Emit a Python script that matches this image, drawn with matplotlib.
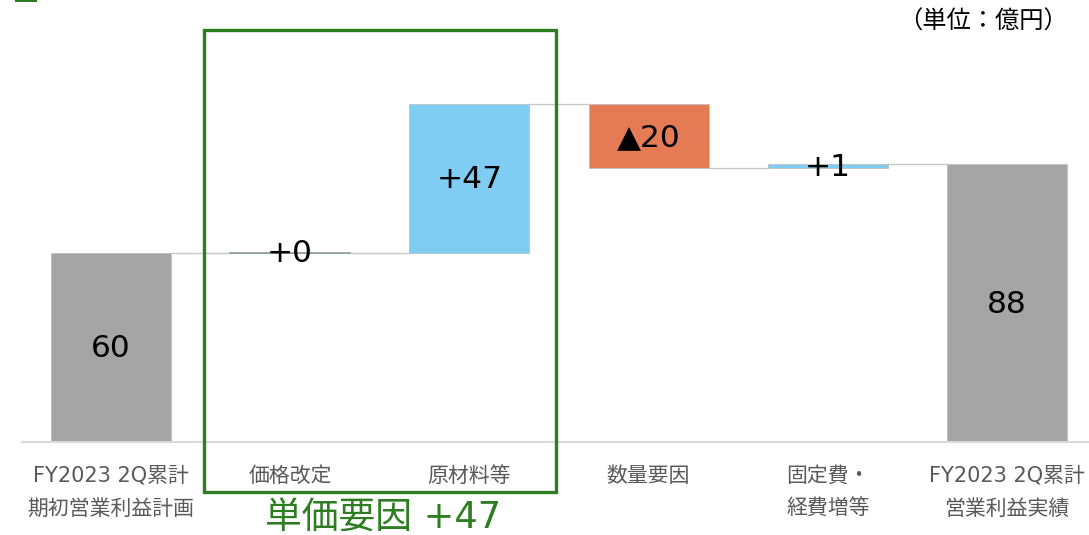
import matplotlib.pyplot as plt
from matplotlib.patches import Rectangle
import numpy as np

# DejaVu for Latin (Verdana-like, close to Meiryo), CJK fallback for Japanese
plt.rcParams['font.family'] = ['DejaVu Sans', 'Noto Sans CJK JP']

# chart data
categories = ['FY2023 2Q累計\n期初営業利益計画', '価格改定', '原材料等', '数量要因',
              '固定費・\n経費増等', 'FY2023 2Q累計\n営業利益実績']
values = [60, 0, 47, -20, 1, 88]
is_total = [True, False, False, False, False, True]
value_labels = ['60', '+0', '+47', '▲20', '+1', '88']
group_label = '単価要因 +47'
unit_label = '（単位：億円）'

GRAY = '#a5a5a5'
BLUE = '#7fcdf2'
ORANGE = '#e47b55'
GREEN = '#2e7d23'

# waterfall bottoms / tops
bottoms, tops = [], []
running = 0
for v, tot in zip(values, is_total):
    if tot:
        bottoms.append(0)
        tops.append(v)
        running = v
    else:
        start = running
        running = running + v
        bottoms.append(min(start, running))
        tops.append(max(start, running))
heights = [t - b for t, b in zip(tops, bottoms)]
colors = [GRAY if tot else (ORANGE if v < 0 else BLUE) for v, tot in zip(values, is_total)]

fig = plt.figure(figsize=(10.89, 5.35), dpi=100)
ax = fig.add_axes([21.5 / 1089, 93 / 535, 1075 / 1089, 347 / 535])

x = np.arange(len(categories))
w = 0.67
ax.bar(x, heights, bottom=bottoms, width=w, color=colors,
       edgecolor='#bfbfbf', linewidth=0.6, zorder=2)
# the zero-change bar shows as a thin line
for i, h in enumerate(heights):
    if h == 0:
        ax.plot([i - w / 2, i + w / 2], [bottoms[i]] * 2, color='#8c9aa0', lw=1.2, zorder=3)

# connector lines
running = 0
levels = []
for v, tot in zip(values, is_total):
    running = v if tot else running + v
    levels.append(running)
for i in range(len(values) - 1):
    ax.plot([i + w / 2, i + 1 - w / 2], [levels[i]] * 2, color='#c8c8c8', lw=1.0, zorder=1)

# value labels
for i in range(len(values)):
    ax.text(x[i], (bottoms[i] + tops[i]) / 2 - 0.4, value_labels[i], ha='center', va='center',
            fontsize=22.5, color='black', zorder=4)

ax.set_xlim(-0.5, 5.5)
ax.set_ylim(0, 110)
ax.set_yticks([])
ax.set_xticks(x)
ax.set_xticklabels(categories, fontsize=15, color='#595959', linespacing=1.85)
ax.tick_params(axis='x', length=0, pad=17)
for s in ['top', 'right', 'left']:
    ax.spines[s].set_visible(False)
ax.spines['bottom'].set_color('#d9d9d9')
ax.spines['bottom'].set_linewidth(1.5)

# green group box and label
fig.patches.append(Rectangle((204 / 1089, 1 - 492 / 535), 352 / 1089, 462 / 535,
                             transform=fig.transFigure, fill=False, edgecolor=GREEN,
                             linewidth=2.4, zorder=5))
fig.patches.append(Rectangle((15 / 1089, 1 - 2 / 535), 22 / 1089, 2 / 535,
                             transform=fig.transFigure, facecolor=GREEN, edgecolor='none'))
fig.text(383 / 1089, 1 - 518 / 535, group_label, ha='center', va='center',
         fontsize=26.5, color=GREEN)
fig.text(1068 / 1089, 1 - 22 / 535, unit_label, ha='right', va='center',
         fontsize=17.5, color='black')

fig.savefig('out.png', dpi=100)
